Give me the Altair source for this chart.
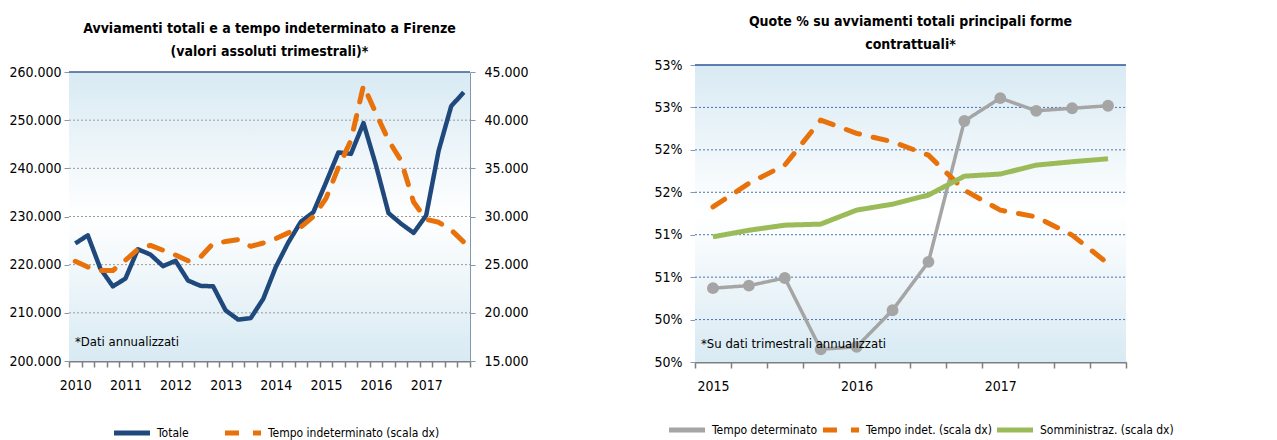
import altair as alt
import pandas as pd

FONT = "Liberation Sans Narrow, DejaVu Sans Condensed, Arial Narrow, sans-serif"

# ---------------- data: left panel ----------------
quarters_l = [f"{y}-Q{q}" for y in range(2010, 2018) for q in range(1, 5)]
totale = [224400, 226100, 219200, 215500, 217100, 223200, 222100, 219700,
          220800, 216700, 215600, 215500, 210500, 208600, 208900, 212900,
          219500, 224600, 228900, 230900, 237000, 243300, 243000, 249400,
          240600, 230700, 228500, 226600, 230200, 243700, 252900, 255800]
indet = [25350, 24760, 24400, 24400, 25450, 26600, 27000, 26500,
         26000, 25400, 25800, 27200, 27400, 27600, 26900, 27250,
         27700, 28300, 28900, 30000, 31850, 35100, 37900, 43600,
         40700, 37900, 35800, 31500, 29700, 29400, 28600, 27350]
ticks_left_l = [200000, 210000, 220000, 230000, 240000, 250000, 260000]
ticks_right_l = [15000, 20000, 25000, 30000, 35000, 40000, 45000]
grid_l = [210000, 220000, 230000, 240000, 250000]
series_l = ["Totale", "Tempo indeterminato (scala dx)"]

# ---------------- data: right panel ----------------
quarters_r = [f"{y}-Q{q}" for y in range(2015, 2018) for q in range(1, 5)]
det = [50.87, 50.90, 50.99, 50.15, 50.18, 50.61, 51.18, 52.84, 53.11, 52.96, 52.99, 53.02]
indet_r = [13.31, 14.42, 15.28, 17.40, 16.78, 16.38, 15.75, 14.10, 13.16, 12.84, 11.98, 10.64]
somm = [11.90, 12.21, 12.45, 12.50, 13.16, 13.44, 13.87, 14.76, 14.86, 15.28, 15.44, 15.58]
ticks_left_r = [50.0, 50.5, 51.0, 51.5, 52.0, 52.5, 53.0, 53.5]
ticks_right_r = [6, 8, 10, 12, 14, 16, 18, 20]
grid_r = [50.5, 51.0, 51.5, 52.0, 52.5, 53.0]
series_r = ["Tempo determinato", "Tempo indet. (scala dx)", "Somministraz. (scala dx)"]

BLUE = "#1f487c"
ORANGE = "#e8710a"
GRAY = "#a5a5a5"
GREEN = "#9bbb59"
AXC = "#8497b0"

df_l = pd.DataFrame({"q": quarters_l, "totale": totale, "indet": indet})
df_r = pd.DataFrame({"q": quarters_r, "det": det, "indet": indet_r, "somm": somm})

W1, H1, TOP1 = 401, 296, 7
W2, H2 = 431, 297
LAB = 14

grad = alt.LinearGradient(
    gradient="linear", x1=0, x2=0, y1=0, y2=1,
    stops=[alt.GradientStop(color="#d8eaf3", offset=0),
           alt.GradientStop(color="#ffffff", offset=0.5),
           alt.GradientStop(color="#d8eaf3", offset=1)])


def xenc(quarters):
    return alt.X(
        "q:N", sort=quarters, title=None, bandPosition=0.5,
        scale=alt.Scale(type="band", domain=quarters, paddingInner=0, paddingOuter=0),
        axis=alt.Axis(labelExpr="indexof(datum.label,'Q1')>0 ? substring(datum.label,0,4) : ''",
                      tickBand="extent", domainColor="#7f7f7f", domainWidth=2,
                      tickColor="#7f7f7f", tickSize=6, tickWidth=1.5, labelAngle=0,
                      labelPadding=11, labelFontSize=LAB, labelOverlap=False, grid=False))


def yaxis(orient, values, expr, pad, ext):
    return alt.Axis(orient=orient, values=values, labelExpr=expr,
                    domainColor=AXC, tickColor=AXC, tickSize=5,
                    labelFontSize=LAB, grid=False, minExtent=ext, maxExtent=ext,
                    labelPadding=pad)


def legend(x, y, colpad):
    return alt.Legend(orient="none", legendX=x, legendY=y, direction="horizontal",
                      title=None, symbolType="stroke", symbolSize=1300,
                      symbolStrokeWidth=5, labelFontSize=12, columnPadding=colpad,
                      labelOffset=4, labelFont=FONT, labelLimit=400)


def title(lines, dy):
    return alt.TitleParams(text=lines, fontSize=14, font=FONT, fontWeight="bold",
                           anchor="middle", frame="group", offset=6, lineHeight=23,
                           color="black", dy=dy)


one = alt.Data(values=[{}])
DOTS = "replace(format(datum.value, ',.0f'), ',', '.')"

# ---------------- left panel ----------------
ysc_l = alt.Scale(domain=[200000, 260000], range=[H1, TOP1], nice=False, zero=False)
ysc_l2 = alt.Scale(domain=[15000, 45000], range=[H1, TOP1], nice=False, zero=False)
col_l = alt.Color("serie:N", scale=alt.Scale(domain=series_l, range=[BLUE, ORANGE]),
                  legend=legend(42, 347, 25))
dash_l = alt.StrokeDash("serie:N", scale=alt.Scale(domain=series_l, range=[[1, 0], [14, 14]]),
                        legend=legend(42, 347, 25))

bg_l = alt.Chart(one).mark_rect(color=grad).encode(
    x=alt.value(0), x2=alt.value(W1), y=alt.value(TOP1), y2=alt.value(H1))
grid_lay_l = alt.Chart(pd.DataFrame({"v": grid_l})).mark_rule(
    color="#9a9a9a", strokeDash=[2, 2], strokeWidth=1).encode(
    x=alt.value(0), x2=alt.value(W1), y=alt.Y("v:Q", scale=ysc_l, axis=None))
top_l = alt.Chart(one).mark_rule(color="#3b5f8f", strokeWidth=1.5).encode(
    x=alt.value(0), x2=alt.value(W1), y=alt.value(TOP1))
tot_line = alt.Chart(df_l).transform_calculate(serie="'Totale'").mark_line(
    strokeWidth=4.5, strokeJoin="round").encode(
    x=xenc(quarters_l),
    y=alt.Y("totale:Q", scale=ysc_l, title=None,
            axis=yaxis("left", ticks_left_l, DOTS, 3, 60)),
    color=col_l, strokeDash=dash_l)
ind_line = alt.Chart(df_l).transform_calculate(serie="'Tempo indeterminato (scala dx)'").mark_line(
    strokeWidth=5, strokeCap="round", strokeJoin="round").encode(
    x=xenc(quarters_l),
    y=alt.Y("indet:Q", scale=ysc_l2, title=None,
            axis=yaxis("right", ticks_right_l, DOTS, 9, 58)),
    color=col_l, strokeDash=dash_l)
note_l = alt.Chart(one).mark_text(align="left", baseline="middle", fontSize=13, font=FONT).encode(
    x=alt.value(6), y=alt.value(277), text=alt.value("*Dati annualizzati"))

left = alt.layer(bg_l, grid_lay_l, top_l, tot_line, ind_line, note_l).resolve_scale(
    y="independent").properties(
    width=W1, height=H1,
    title=title(["Avviamenti totali e a tempo indeterminato a Firenze",
                 "(valori assoluti trimestrali)*"], 0))

# ---------------- right panel ----------------
ysc_r = alt.Scale(domain=[50, 53.5], nice=False, zero=False)
ysc_r2 = alt.Scale(domain=[6, 20], nice=False, zero=False)
col_r = alt.Color("serie:N", scale=alt.Scale(domain=series_r, range=[GRAY, ORANGE, GREEN]),
                  legend=legend(-29, 344, -6))
dash_r = alt.StrokeDash("serie:N", scale=alt.Scale(domain=series_r,
                                                   range=[[1, 0], [14, 14], [1, 0]]),
                        legend=legend(-29, 344, -6))

bg_r = alt.Chart(one).mark_rect(color=grad).encode(
    x=alt.value(0), x2=alt.value(W2), y=alt.value(0), y2=alt.value(H2))
grid_lay_r = alt.Chart(pd.DataFrame({"v": grid_r})).mark_rule(
    color="#4a74b0", strokeDash=[2, 2], strokeWidth=1).encode(
    x=alt.value(0), x2=alt.value(W2), y=alt.Y("v:Q", scale=ysc_r, axis=None))
top_r = alt.Chart(one).mark_rule(color="#2f5597", strokeWidth=1.5).encode(
    x=alt.value(0), x2=alt.value(W2), y=alt.value(0))
det_line = alt.Chart(df_r).transform_calculate(serie="'Tempo determinato'").mark_line(
    strokeWidth=3.5, strokeJoin="round",
    point=alt.OverlayMarkDef(filled=True, size=140, color=GRAY, opacity=1)).encode(
    x=xenc(quarters_r),
    y=alt.Y("det:Q", scale=ysc_r, title=None,
            axis=yaxis("left", ticks_left_r, "floor(datum.value) + '%'", 8, 41)),
    color=col_r, strokeDash=dash_r)
ind_r_line = alt.Chart(df_r).transform_calculate(serie="'Tempo indet. (scala dx)'").mark_line(
    strokeWidth=5, strokeCap="round", strokeJoin="round").encode(
    x=xenc(quarters_r),
    y=alt.Y("indet:Q", scale=ysc_r2, title=None,
            axis=yaxis("right", ticks_right_r, "datum.value + '%'", 9, 42)),
    color=col_r, strokeDash=dash_r)
somm_line = alt.Chart(df_r).transform_calculate(serie="'Somministraz. (scala dx)'").mark_line(
    strokeWidth=5, strokeJoin="round").encode(
    x=xenc(quarters_r),
    y=alt.Y("somm:Q", scale=ysc_r2, axis=None),
    color=col_r, strokeDash=dash_r)
note_r = alt.Chart(one).mark_text(align="left", baseline="middle", fontSize=13, font=FONT).encode(
    x=alt.value(6), y=alt.value(279), text=alt.value("*Su dati trimestrali annualizzati"))

right_inner = alt.layer(ind_r_line, somm_line)
right = alt.layer(bg_r, grid_lay_r, top_r, det_line, right_inner, note_r).resolve_scale(
    y="independent").properties(
    width=W2, height=H2,
    title=title(["Quote % su avviamenti totali principali forme", "contrattuali*"], 0))

chart = alt.hconcat(left, right, spacing=125).resolve_scale(
    color="independent", strokeDash="independent").properties(
    padding={"left": 0, "top": 7, "right": 0, "bottom": 0}
).configure_view(stroke=None).configure_axis(
    labelFont=FONT, labelColor="black"
).configure_legend(labelFont=FONT, labelColor="black").configure_title(font=FONT)

chart.save("out.html", embed_options={"renderer": "svg", "actions": False})
